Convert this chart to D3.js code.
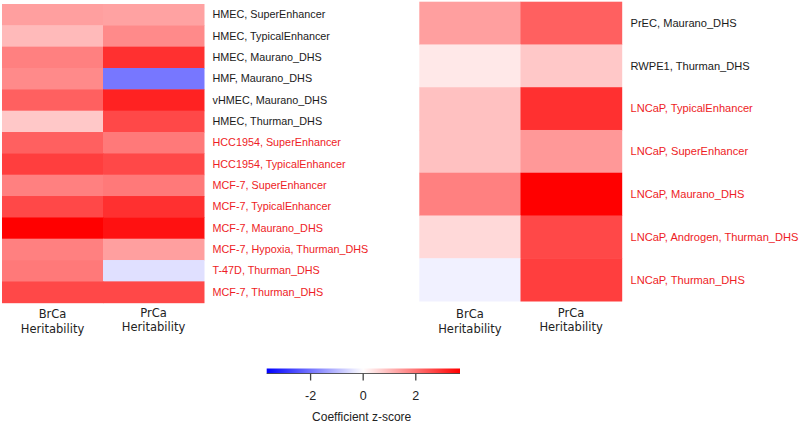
<!DOCTYPE html>
<html>
<head>
<meta charset="utf-8">
<script src="https://cdn.jsdelivr.net/npm/d3@7"></script>
<style>
  html, body { margin: 0; padding: 0; background: #fff; }
  svg { display: block; }
</style>
</head>
<body>
<svg id="chart" width="800" height="424"></svg>
<script>
// ---- data ----
const columns = ["BrCa\nHeritability", "PrCa\nHeritability"];

const leftRows = [
  "HMEC, SuperEnhancer", "HMEC, TypicalEnhancer", "HMEC, Maurano_DHS", "HMF, Maurano_DHS",
  "vHMEC, Maurano_DHS", "HMEC, Thurman_DHS", "HCC1954, SuperEnhancer", "HCC1954, TypicalEnhancer",
  "MCF-7, SuperEnhancer", "MCF-7, TypicalEnhancer", "MCF-7, Maurano_DHS",
  "MCF-7, Hypoxia, Thurman_DHS", "T-47D, Thurman_DHS", "MCF-7, Thurman_DHS"
];
const leftIsCancer = [false, false, false, false, false, false, true, true, true, true, true, true, true, true];
const leftBrCa = [1.4, 1.0, 1.85, 1.7, 2.3, 0.8, 2.3, 2.8, 1.85, 2.65, 3.7, 1.85, 1.95, 2.65];
const leftPrCa = [1.35, 1.7, 3.0, -1.95, 3.2, 2.65, 1.95, 2.65, 1.95, 3.0, 3.45, 1.4, -0.45, 2.65];

const rightRows = [
  "PrEC, Maurano_DHS", "RWPE1, Thurman_DHS", "LNCaP, TypicalEnhancer", "LNCaP, SuperEnhancer",
  "LNCaP, Maurano_DHS", "LNCaP, Androgen, Thurman_DHS", "LNCaP, Thurman_DHS"
];
const rightIsCancer = [false, false, true, true, true, true, true];
const rightBrCa = [1.4, 0.33, 0.9, 0.9, 1.85, 0.55, -0.2];
const rightPrCa = [2.3, 0.8, 3.0, 1.5, 3.7, 2.65, 2.8];

const legendTicks = [-2, 0, 2];
const legendTitle = "Coefficient z-score";
const zMin = -3.65, zMax = 3.7;

// ---- drawing ----
const svg = d3.select("#chart");
const color = d3.scaleLinear().domain([zMin, 0, zMax]).range(["#0000ff", "#ffffff", "#ff0000"]).clamp(true);
const labelFont = "'Liberation Sans', Arial, sans-serif";
const colFont = "'DejaVu Sans', Verdana, sans-serif";
const redText = "#ee1c25";

function heatmap(g, rows, isCancer, brca, prca, x0, x1, y0, y1, labelX, labelSize) {
  const x = d3.scaleBand().domain(columns).range([x0, x1]);
  const y = d3.scaleBand().domain(rows).range([y0, y1]);
  const cells = [];
  rows.forEach((r, i) => {
    cells.push({ row: r, col: columns[0], v: brca[i] });
    cells.push({ row: r, col: columns[1], v: prca[i] });
  });
  g.selectAll("rect.cell").data(cells).enter().append("rect")
    .attr("class", "cell")
    .attr("x", d => x(d.col))
    .attr("y", d => y(d.row))
    .attr("width", x.bandwidth() + 0.5)
    .attr("height", y.bandwidth() + 0.5)
    .attr("fill", d => color(d.v));
  g.selectAll("text.rowlab").data(rows).enter().append("text")
    .attr("class", "rowlab")
    .attr("x", labelX)
    .attr("y", d => y(d) + y.bandwidth() / 2)
    .attr("dy", "0.35em")
    .attr("font-family", labelFont)
    .attr("font-size", labelSize)
    .attr("fill", (d, i) => isCancer[i] ? redText : "#1a1a1a")
    .text(d => d);
  columns.forEach((c, ci) => {
    const t = g.append("text")
      .attr("x", x(c) + x.bandwidth() / 2)
      .attr("y", 314 - ci * 1.5)
      .attr("text-anchor", "middle")
      .attr("font-family", colFont)
      .attr("font-size", 11.5)
      .attr("fill", "#222");
    c.split("\n").forEach((line, li) => {
      t.append("tspan")
        .attr("x", x(c) + x.bandwidth() / 2)
        .attr("dy", li === 0 ? "0.35em" : 14.5)
        .text(line);
    });
  });
}

heatmap(svg.append("g"), leftRows, leftIsCancer, leftBrCa, leftPrCa, 2, 204, 4, 302.7, 212.5, 10.8);
heatmap(svg.append("g"), rightRows, rightIsCancer, rightBrCa, rightPrCa, 419.3, 621.7, 1.7, 301, 630.5, 11.1);

// ---- legend ----
const lx = d3.scaleLinear().domain([zMin, zMax]).range([266.7, 460]);
const defs = svg.append("defs");
const grad = defs.append("linearGradient").attr("id", "zgrad").attr("x1", "0%").attr("x2", "100%");
d3.range(0, 1.0001, 0.05).forEach(f => {
  const v = zMin + f * (zMax - zMin);
  grad.append("stop").attr("offset", (f * 100) + "%").attr("stop-color", color(v));
});
const lg = svg.append("g");
lg.append("rect").attr("x", lx(zMin)).attr("y", 368.5).attr("width", lx(zMax) - lx(zMin)).attr("height", 5)
  .attr("fill", "url(#zgrad)");
lg.append("line").attr("x1", lx(zMin)).attr("x2", lx(zMax)).attr("y1", 373.5).attr("y2", 373.5)
  .attr("stroke", "#333").attr("stroke-width", 0.8);
const axis = d3.axisBottom(lx).tickValues(legendTicks).tickSize(7).tickPadding(11).tickFormat(d3.format("d"));
const ag = lg.append("g").attr("transform", "translate(0,373.5)").call(axis);
ag.select(".domain").remove();
ag.selectAll(".tick line").attr("stroke", "#444").attr("stroke-width", 1.3);
ag.selectAll(".tick text").attr("font-family", labelFont).attr("font-size", 12.5).attr("fill", "#222")
  .text(d => d < 0 ? "-" + Math.abs(d) : d);
lg.append("text").attr("x", 361.7).attr("y", 420.5).attr("text-anchor", "middle")
  .attr("font-family", labelFont).attr("font-size", 12).attr("fill", "#222").text(legendTitle);
</script>
</body>
</html>
